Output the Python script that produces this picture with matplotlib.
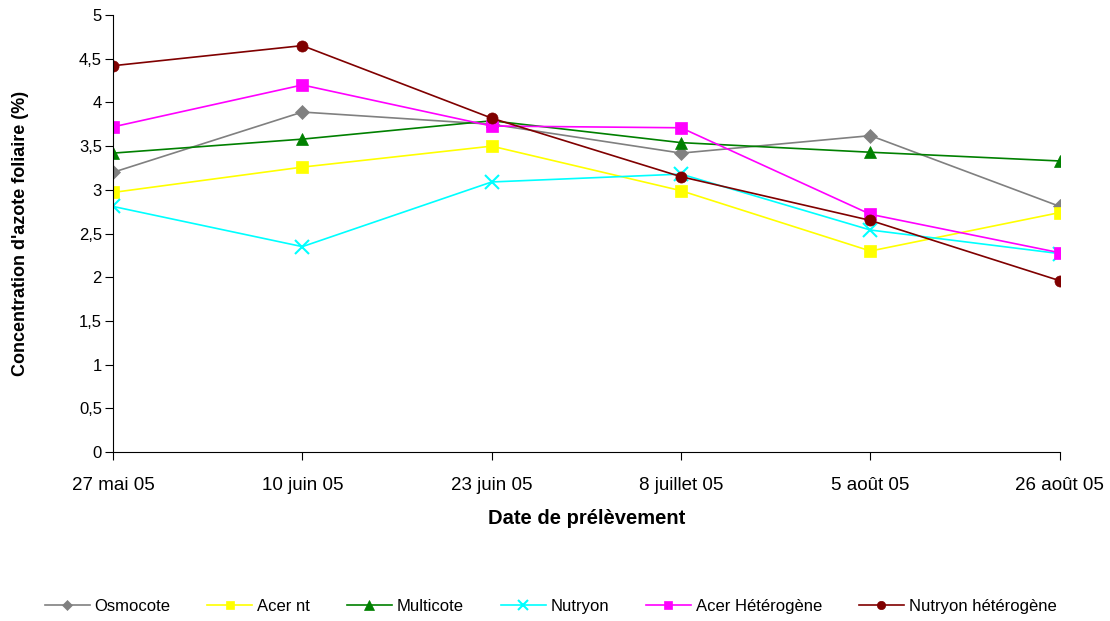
import numpy as np
import matplotlib.pyplot as plt

plt.rcParams['font.family'] = ['Liberation Sans', 'DejaVu Sans']

# Dates de prélèvement et concentrations (%) par traitement
dates = ["27 mai 05", "10 juin 05", "23 juin 05", "8 juillet 05", "5 août 05", "26 août 05"]
osmocote = [3.20, 3.89, 3.75, 3.42, 3.62, 2.81]
acer_nt = [2.97, 3.26, 3.50, 2.99, 2.30, 2.74]
multicote = [3.42, 3.58, 3.79, 3.54, 3.43, 3.33]
nutryon = [2.81, 2.35, 3.09, 3.18, 2.54, 2.27]
acer_het = [3.72, 4.20, 3.73, 3.71, 2.72, 2.28]
nutryon_het = [4.42, 4.65, 3.82, 3.15, 2.65, 1.96]

series = [
    ("Osmocote", osmocote, "#808080", "D", 7),
    ("Acer nt", acer_nt, "#ffff00", "s", 8),
    ("Multicote", multicote, "#008000", "^", 9),
    ("Nutryon", nutryon, "#00ffff", "x", 10),
    ("Acer Hétérogène", acer_het, "#ff00ff", "s", 8),
    ("Nutryon hétérogène", nutryon_het, "#800000", "o", 8),
]

fig = plt.figure(figsize=(11.1, 6.21), dpi=100)
ax = fig.add_axes([0.1018, 0.2721, 0.853, 0.7037])

x = np.arange(len(dates))
for name, vals, col, mk, ms in series:
    ax.plot(x, vals, color=col, marker=mk, markersize=ms, linewidth=1.2,
            markeredgewidth=1.5 if mk == "x" else 0.5, label=name)

ax.set_xlim(0, len(dates) - 1)
ax.set_ylim(0, 5)
ax.set_xticks(x)
ax.set_xticklabels(dates, fontsize=13.5)
yt = np.arange(0, 5.01, 0.5)
ax.set_yticks(yt)
ax.set_yticklabels([f"{v:g}".replace(".", ",") for v in yt], fontsize=12)
ax.tick_params(axis="x", pad=12, length=6)
ax.tick_params(axis="y", length=6, pad=2)
ax.spines["top"].set_visible(False)
ax.spines["right"].set_visible(False)
ax.set_xlabel("Date de prélèvement", fontsize=14.5, fontweight="bold", labelpad=11)
ax.set_ylabel("Concentration d'azote foliaire (%)", fontsize=13, fontweight="bold", labelpad=36)

fig.legend(loc="center", bbox_to_anchor=(0.496, 0.024), ncol=6, frameon=False,
           fontsize=12, handlelength=2.7, columnspacing=2.2, handletextpad=0.3,
           markerscale=0.75)

fig.savefig("out.png", dpi=100)
